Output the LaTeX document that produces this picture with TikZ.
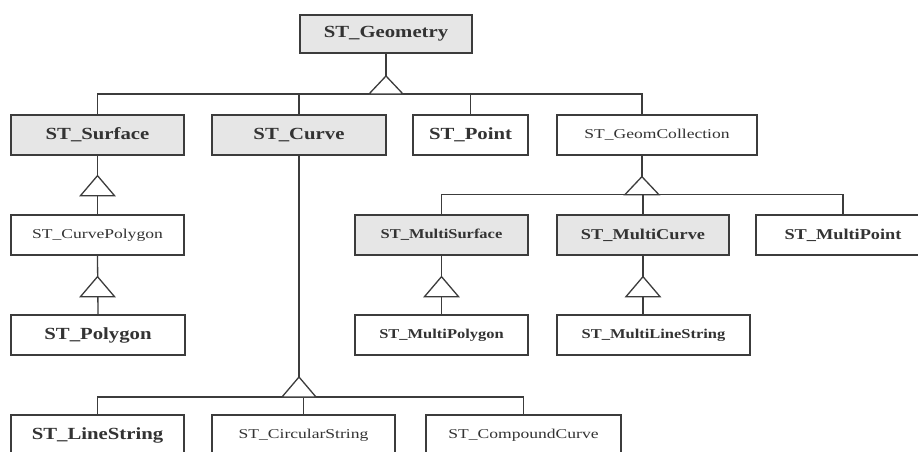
\documentclass[tikz,border=0pt]{standalone}
\usepackage{fontspec}
\setmainfont{Liberation Serif}[FakeStretch=1.22]
\newfontfamily\regf{Liberation Serif}[FakeStretch=1.3]
\usetikzlibrary{calc}
\definecolor{linec}{HTML}{3C3C3C}
\definecolor{boxg}{HTML}{E6E6E6}
\definecolor{txtc}{HTML}{333333}
\begin{document}
\begin{tikzpicture}[x=1pt,y=-1pt,
  box/.style={draw=linec, line width=1.3pt, fill=white, inner sep=0pt, minimum height=40pt, text=txtc},
  grey/.style={fill=boxg},
  big/.style={font=\fontsize{17}{20}\selectfont\bfseries},
  mid/.style={font=\fontsize{15}{18}\selectfont\bfseries},
  sml/.style={font=\fontsize{13.5}{16}\selectfont\bfseries},
  lite/.style={font=\regf\fontsize{13.5}{16}\selectfont},
  conn/.style={draw=linec, line width=1.3pt},
  tri/.style={draw=linec, line width=1.3pt, fill=white, line join=miter}]
\useasboundingbox (0,0) rectangle (918,452);
\clip (0,0) rectangle (918,452);
\fill[white] (0,0) rectangle (918,452);

% nodes
\node[box,grey,big,minimum width=172pt,minimum height=38pt] (geom) at (386,34) {ST\_Geometry};
\node[box,grey,big,minimum width=173pt] (surf) at (97.5,135) {ST\_Surface};
\node[box,grey,big,minimum width=174pt] (curve) at (299,135) {ST\_Curve};
\node[box,big,minimum width=115pt] (point) at (470.5,135) {ST\_Point};
\node[box,lite,minimum width=200pt] (gcoll) at (657,135) {ST\_GeomCollection};
\node[box,lite,minimum width=173pt] (cpoly) at (97.5,235) {ST\_CurvePolygon};
\node[box,grey,sml,minimum width=173pt] (msurf) at (441.5,235) {ST\_MultiSurface};
\node[box,grey,mid,minimum width=172pt] (mcurve) at (643,235) {ST\_MultiCurve};
\node[box,mid,minimum width=174pt] (mpoint) at (843,235) {ST\_MultiPoint};
\node[box,big,minimum width=174pt] (poly) at (98,335) {ST\_Polygon};
\node[box,sml,minimum width=173pt] (mpoly) at (441.5,335) {ST\_MultiPolygon};
\node[box,sml,minimum width=193pt] (mls) at (653.5,335) {ST\_MultiLineString};
\node[box,big,minimum width=173pt] (lstr) at (97.5,435) {ST\_LineString};
\node[box,lite,minimum width=183pt] (cstr) at (303.5,435) {ST\_CircularString};
\node[box,lite,minimum width=195pt] (ccurve) at (523.5,435) {ST\_CompoundCurve};

% ST_Geometry generalisation
\coordinate (a1) at (386,76);
\coordinate (b1) at (386,94);
\coordinate (gcin) at ($(gcoll.north west)!0.425!(gcoll.north east)$);
\draw[conn] (geom.south) -- (a1);
\draw[conn] (surf.north) -- (surf.north |- b1) -- (gcin |- b1) -- (gcin);
\draw[conn] (curve.north) -- (curve.north |- b1);
\draw[conn] (point.north) -- (point.north |- b1);
\draw[tri] (a1) -- ++(-17,18) -- ++(34,0) -- cycle;

% ST_Surface -> ST_CurvePolygon
\coordinate (a2) at ($(surf.south)+(0,20)$);
\draw[conn] (surf.south) -- (cpoly.north);
\draw[tri] (a2) -- ++(-17,20) -- ++(34,0) -- cycle;

% ST_CurvePolygon -> ST_Polygon
\coordinate (a3) at ($(cpoly.south)+(0,21)$);
\draw[conn] (cpoly.south) -- (poly.north);
\draw[tri] (a3) -- ++(-17,20) -- ++(34,0) -- cycle;

% ST_GeomCollection generalisation
\coordinate (gcout) at ($(gcoll.south west)!0.425!(gcoll.south east)$);
\coordinate (a4) at ($(gcout)+(0,21)$);
\coordinate (b4) at ($(gcout)+(0,39)$);
\draw[conn] (gcout) -- (a4);
\draw[conn] (msurf.north) -- (msurf.north |- b4) -- (mpoint.north |- b4) -- (mpoint.north);
\draw[conn] (mcurve.north) -- (mcurve.north |- b4);
\draw[tri] (a4) -- ++(-17,18) -- ++(34,0) -- cycle;

% ST_MultiSurface -> ST_MultiPolygon
\coordinate (a5) at ($(msurf.south)+(0,21)$);
\draw[conn] (msurf.south) -- (mpoly.north);
\draw[tri] (a5) -- ++(-17,20) -- ++(34,0) -- cycle;

% ST_MultiCurve -> ST_MultiLineString
\coordinate (a6) at ($(mcurve.south)+(0,21)$);
\draw[conn] (mcurve.south) -- (mcurve.south |- mls.north);
\draw[tri] (a6) -- ++(-17,20) -- ++(34,0) -- cycle;

% ST_Curve generalisation
\coordinate (a7) at (299,377);
\coordinate (b7) at (299,397);
\draw[conn] (curve.south) -- (a7);
\draw[conn] (lstr.north) -- (lstr.north |- b7) -- (ccurve.north |- b7) -- (ccurve.north);
\draw[conn] (cstr.north) -- (cstr.north |- b7);
\draw[tri] (a7) -- ++(-17,20) -- ++(34,0) -- cycle;
\end{tikzpicture}
\end{document}
